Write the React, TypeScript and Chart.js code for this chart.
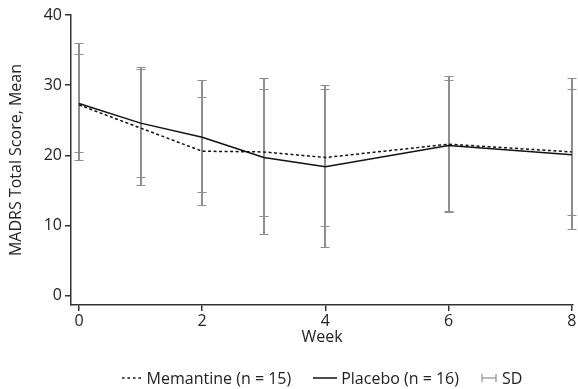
import React, { useEffect, useRef } from "react";
import { Chart, registerables } from "chart.js";

Chart.register(...registerables);

const weeks = [0, 1, 2, 3, 4, 6, 8];
const memantineMean = [27.2, 23.9, 20.6, 20.5, 19.7, 21.6, 20.5];
const placeboMean = [27.4, 24.6, 22.6, 19.7, 18.4, 21.4, 20.1];
const memantineSdHigh = [34.5, 32.3, 28.3, 29.5, 29.5, 30.7, 29.4];
const memantineSdLow = [20.5, 15.8, 13.0, 11.4, 9.9, 12.1, 11.5];
const placeboSdHigh = [36.0, 32.6, 30.7, 31.0, 30.0, 31.3, 31.0];
const placeboSdLow = [19.3, 17.0, 14.8, 8.8, 7.0, 12.0, 9.5];
const xTicks = [0, 2, 4, 6, 8];
const yTicks = [0, 10, 20, 30, 40];

const FONT = "'Open Sans', 'Noto Sans', sans-serif";

const sdPlugin = {
  id: "sdBars",
  beforeDatasetsDraw(chart: any) {
    const { ctx } = chart;
    const x = chart.scales.x;
    const y = chart.scales.y;
    const groups = [
      { hi: memantineSdHigh, lo: memantineSdLow },
      { hi: placeboSdHigh, lo: placeboSdLow },
    ];
    ctx.save();
    ctx.strokeStyle = "#8e8e8e";
    groups.forEach((g) => {
      weeks.forEach((w, i) => {
        const px = Math.round(x.getPixelForValue(w));
        const top = Math.round(y.getPixelForValue(g.hi[i])) + 0.5;
        const bot = Math.round(y.getPixelForValue(g.lo[i])) + 0.5;
        ctx.lineWidth = 2;
        ctx.beginPath();
        ctx.moveTo(px, top);
        ctx.lineTo(px, bot);
        ctx.stroke();
        ctx.lineWidth = 1.2;
        ctx.beginPath();
        ctx.moveTo(px - 4.5, top);
        ctx.lineTo(px + 4.5, top);
        ctx.moveTo(px - 4.5, bot);
        ctx.lineTo(px + 4.5, bot);
        ctx.stroke();
      });
    });
    ctx.restore();
  },
};

export default function App() {
  const ref = useRef<HTMLCanvasElement | null>(null);

  useEffect(() => {
    document.body.style.margin = "0";
    if (!ref.current) return;
    const tickFont = { family: FONT, size: 16 };
    const chart = new Chart(ref.current, {
      type: "line",
      data: {
        datasets: [
          {
            label: "Memantine (n = 15)",
            data: weeks.map((w, i) => ({ x: w, y: memantineMean[i] })),
            borderColor: "#111",
            borderWidth: 1.5,
            borderDash: [3, 2.5],
            pointRadius: 0,
            tension: 0,
            fill: false,
          },
          {
            label: "Placebo (n = 16)",
            data: weeks.map((w, i) => ({ x: w, y: placeboMean[i] })),
            borderColor: "#111",
            borderWidth: 1.5,
            pointRadius: 0,
            tension: 0,
            fill: false,
          },
        ],
      },
      options: {
        responsive: false,
        animation: false,
        layout: { padding: { top: 15, right: 5, left: 0, bottom: 42 } },
        plugins: { legend: { display: false }, tooltip: { enabled: false } },
        scales: {
          x: {
            type: "linear",
            min: -0.13,
            max: 8.02,
            afterBuildTicks: (s: any) => {
              s.ticks = xTicks.map((v) => ({ value: v }));
            },
            afterFit: (s: any) => {
              s.height = 42;
            },
            grid: { drawOnChartArea: false, tickLength: 6, color: "#333", lineWidth: 1.5 },
            border: { display: true, color: "#333", width: 1.5 },
            ticks: { color: "#222", font: tickFont, padding: 1, autoSkip: false, maxRotation: 0 },
            title: {
              display: true,
              text: "Week",
              color: "#222",
              font: tickFont,
              padding: { top: 0, bottom: 0 },
            },
          },
          y: {
            type: "linear",
            min: -1.3,
            max: 40,
            afterBuildTicks: (s: any) => {
              s.ticks = yTicks.map((v) => ({ value: v }));
            },
            afterFit: (s: any) => {
              s.width = 71;
            },
            grid: { drawOnChartArea: false, tickLength: 6, color: "#333", lineWidth: 1.5 },
            border: { display: true, color: "#333", width: 1.5 },
            ticks: { color: "#222", font: tickFont, padding: 3 },
            title: {
              display: true,
              text: "MADRS Total Score, Mean",
              color: "#222",
              font: tickFont,
              padding: { top: 7, bottom: 0 },
            },
          },
        },
      },
      plugins: [sdPlugin],
    } as any);
    return () => chart.destroy();
  }, []);

  const legendText: React.CSSProperties = { fontFamily: FONT, fontSize: 16, color: "#222" };

  return (
    <div style={{ position: "relative", width: 578, height: 389, background: "#fff" }}>
      <canvas ref={ref} width={578} height={389} style={{ display: "block" }} />
      <div
        style={{
          position: "absolute",
          left: 71,
          width: 502,
          top: 367,
          height: 22,
          display: "flex",
          alignItems: "center",
          justifyContent: "center",
          gap: 22,
          whiteSpace: "nowrap",
          ...legendText,
        }}
      >
        <span style={{ display: "flex", alignItems: "center", gap: 5 }}>
          <svg width={20} height={4} style={{ display: "block" }}>
            <line x1={0} y1={2} x2={20} y2={2} stroke="#111" strokeWidth={1.5} strokeDasharray="2.5,3" />
          </svg>
          <span>Memantine (n = 15)</span>
        </span>
        <span style={{ display: "flex", alignItems: "center", gap: 4 }}>
          <svg width={24} height={4} style={{ display: "block" }}>
            <line x1={0} y1={2} x2={24} y2={2} stroke="#111" strokeWidth={1.5} />
          </svg>
          <span>Placebo (n = 16)</span>
        </span>
        <span style={{ display: "flex", alignItems: "center", gap: 5 }}>
          <svg width={16} height={8} style={{ display: "block" }}>
            <line x1={1} y1={0} x2={1} y2={8} stroke="#8e8e8e" strokeWidth={1.2} />
            <line x1={15} y1={0} x2={15} y2={8} stroke="#8e8e8e" strokeWidth={1.2} />
            <line x1={1} y1={4} x2={15} y2={4} stroke="#8e8e8e" strokeWidth={1.2} />
          </svg>
          <span>SD</span>
        </span>
      </div>
    </div>
  );
}
